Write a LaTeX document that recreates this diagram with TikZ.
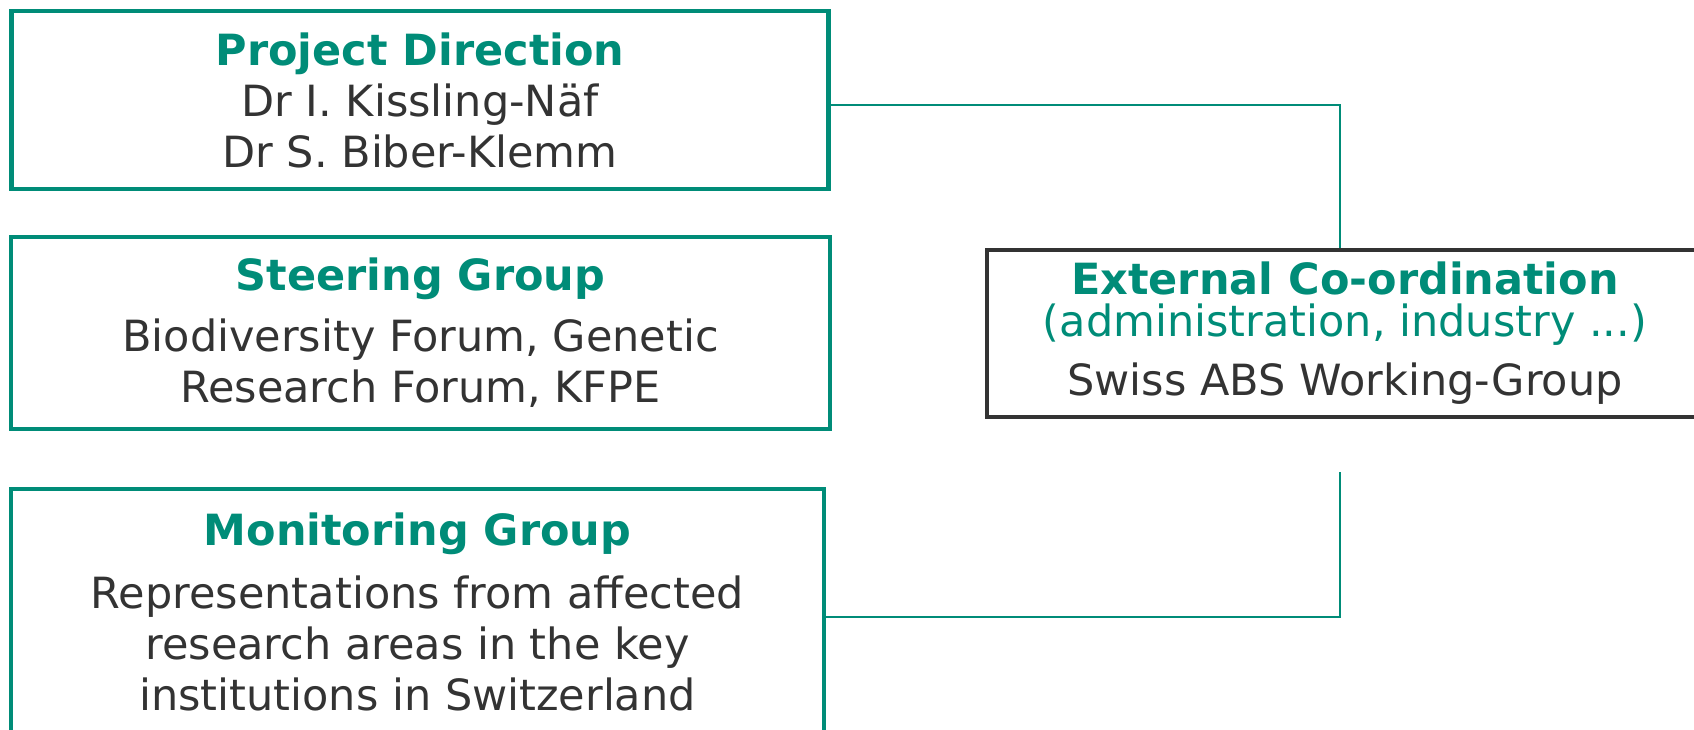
\documentclass[tikz,border=0pt]{standalone}
\usepackage{fontspec}
\setmainfont{DejaVu Sans}
\definecolor{abgreen}{RGB}{0,140,120}
\definecolor{abgrey}{RGB}{51,51,51}

\begin{document}
\begin{tikzpicture}[x=1pt, y=-1pt,
  box/.style={draw=abgreen, line width=4.5pt, align=center, inner sep=0pt,
    text=abgrey, font=\fontsize{43}{51}\selectfont},
  link/.style={draw=abgreen, line width=1.3pt}] %%Project organisation
\useasboundingbox (0,0) rectangle (1694,729);
\clip (0,0) rectangle (1694,729);
\node[box, minimum width=817, minimum height=178] (pd) at (420,100)
  {{\bfseries\color{abgreen}Project Direction}\\Dr I. Kissling-Näf\\Dr S. Biber-Klemm};
\node[box, minimum width=819, minimum height=192] (sg) at (420.5,333)
  {{\bfseries\color{abgreen}Steering Group}\\[10pt]Biodiversity Forum, Genetic\\Research Forum, KFPE};
\node[box, minimum width=813, minimum height=246] (mg) at (417.5,612)
  {{\bfseries\color{abgreen}Monitoring Group}\\[12pt]Representations from affected\\research areas in the key\\institutions in Switzerland};
\node[box, draw=abgrey, minimum width=716, minimum height=167] (ext) at (1345,333.5)
  {{\bfseries\color{abgreen}External Co-ordination}\\[-9pt]{\color{abgreen}(administration, industry ...)}\\[8pt]Swiss ABS Working-Group};
\coordinate (extlow) at (1340,472);
\draw[link] ([yshift=-5pt]pd.east) -| ([xshift=-5pt]ext.north); %%Top
\draw[link] ([yshift=-5pt]mg.east) -| (extlow); %%Bottom
\end{tikzpicture}
\end{document}
